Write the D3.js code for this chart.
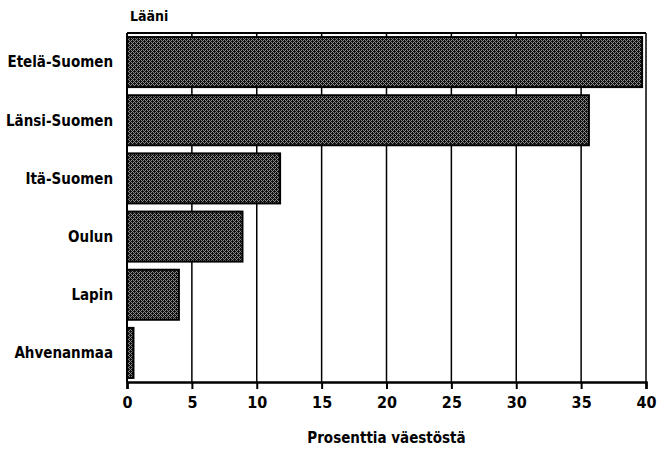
<!DOCTYPE html>
<html>
<head>
<meta charset="utf-8">
<script src="https://cdn.jsdelivr.net/npm/d3@7"></script>
<style>
  body { margin: 0; background: #fff; }
  text { font-family: "DejaVu Sans Condensed", "DejaVu Sans", sans-serif; font-stretch: condensed; font-weight: bold; fill: #000; }
</style>
</head>
<body>
<script>
'use strict';

// provinces and their share of the population (%)
const provinces = ["Etelä-Suomen", "Länsi-Suomen", "Itä-Suomen", "Oulun", "Lapin", "Ahvenanmaa"];
const shares = [39.7, 35.6, 11.8, 8.9, 4.0, 0.5];
const xTicks = [0, 5, 10, 15, 20, 25, 30, 35, 40];

const W = 667, H = 449;
const margin = { top: 33, right: 21, bottom: 67, left: 127 };
const width = W - margin.left - margin.right;
const height = H - margin.top - margin.bottom;

const svg = d3.select("body").append("svg")
    .attr("width", W)
    .attr("height", H);

// halftone-ish fill for the bars
const defs = svg.append("defs");
const pat = defs.append("pattern")
    .attr("id", "dither")
    .attr("width", 4).attr("height", 4)
    .attr("patternUnits", "userSpaceOnUse");
pat.append("rect").attr("width", 4).attr("height", 4).attr("fill", "#8a8a8a");
[[0, 0], [2, 0], [1, 1], [3, 1], [0, 2], [2, 2], [3, 3], [1, 3], [3, 2], [1, 0]].forEach(p => {
    pat.append("rect").attr("x", p[0]).attr("y", p[1])
        .attr("width", 1).attr("height", 1).attr("fill", "#111");
});

const g = svg.append("g")
    .attr("transform", "translate(" + margin.left + "," + margin.top + ")");

const x = d3.scaleLinear().domain([0, 40]).range([0, width]);
const y = d3.scaleBand().domain(provinces).range([0, height])
    .paddingInner(0.14).paddingOuter(0.07);

// vertical grid lines
g.selectAll(".grid")
    .data(xTicks.slice(1))
    .enter().append("line")
    .attr("x1", d => x(d)).attr("x2", d => x(d))
    .attr("y1", 0).attr("y2", height)
    .attr("stroke", "#000")
    .attr("stroke-width", 1.5);

// top frame line
g.append("line")
    .attr("x1", 0).attr("x2", width)
    .attr("y1", 0).attr("y2", 0)
    .attr("stroke", "#000").attr("stroke-width", 2);

// bars
const data = provinces.map((p, i) => ({ name: p, value: shares[i] }));
g.selectAll(".bar")
    .data(data)
    .enter().append("rect")
    .attr("x", x(0))
    .attr("y", d => y(d.name))
    .attr("width", d => x(d.value) - x(0))
    .attr("height", y.bandwidth())
    .attr("fill", "url(#dither)")
    .attr("stroke", "#000")
    .attr("stroke-width", 2);

// x axis
const xAxis = d3.axisBottom(x).tickValues(xTicks).tickSize(7).tickPadding(8);
const ax = g.append("g")
    .attr("transform", "translate(0," + height + ")")
    .call(xAxis);
ax.select(".domain").attr("stroke-width", 2.5);
ax.selectAll(".tick line").attr("stroke-width", 2);
ax.selectAll("text")
    .style("font-size", "16px")
    .style("font-family", null);

// y axis line and category labels
g.append("line")
    .attr("x1", 0).attr("x2", 0)
    .attr("y1", 0).attr("y2", height)
    .attr("stroke", "#000").attr("stroke-width", 2);

g.selectAll(".cat")
    .data(provinces)
    .enter().append("text")
    .attr("x", -14)
    .attr("y", d => y(d) + y.bandwidth() / 2)
    .attr("dy", "0.35em")
    .attr("text-anchor", "end")
    .style("font-size", "15px")
    .text(d => d);

// titles
svg.append("text")
    .attr("x", 130)
    .attr("y", 21)
    .style("font-size", "14px")
    .text("Lääni");

svg.append("text")
    .attr("x", margin.left + width / 2)
    .attr("y", 443)
    .attr("text-anchor", "middle")
    .style("font-size", "15px")
    .text("Prosenttia väestöstä");
</script>
</body>
</html>
